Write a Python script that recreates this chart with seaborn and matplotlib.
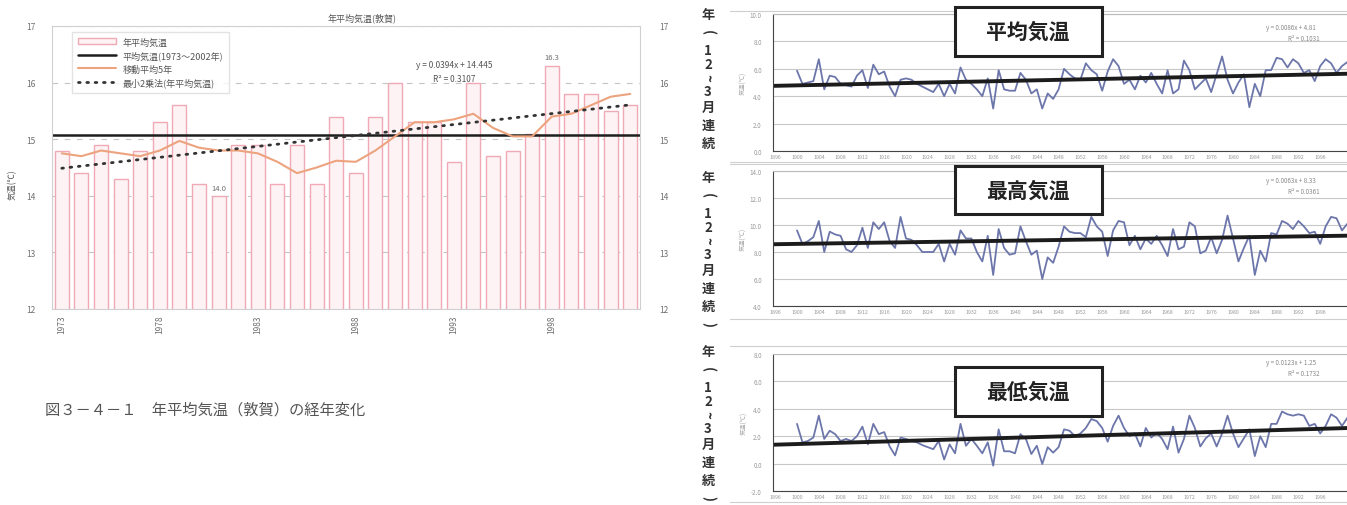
import numpy as np
import matplotlib
matplotlib.use("Agg")
import matplotlib.pyplot as plt
from matplotlib.patches import Rectangle, Patch
from matplotlib.lines import Line2D
import seaborn as sns

# --- left chart: annual mean temperature, Tsuruga 1973-2002
YEARS = list(range(1973, 2003))
ANNUAL_MEAN = [14.8, 14.4, 14.9, 14.3, 14.8, 15.3, 15.6, 14.2, 14.0, 14.9,
               14.9, 14.2, 14.9, 14.2, 15.4, 14.4, 15.4, 16.0, 15.3, 15.3,
               14.6, 16.0, 14.7, 14.8, 15.1, 16.3, 15.8, 15.8, 15.5, 15.6]
MOVING_AVG_5 = [14.75, 14.7, 14.8, 14.75, 14.7, 14.8, 14.97, 14.85, 14.8, 14.8,
                14.75, 14.6, 14.4, 14.5, 14.62, 14.6, 14.8, 15.05, 15.3, 15.3,
                15.35, 15.45, 15.2, 15.05, 15.05, 15.4, 15.45, 15.6, 15.75, 15.8]
NORMAL_1973_2002 = 15.07
TICK_YEARS = [1973, 1978, 1983, 1988, 1993, 1998]
LABELED_YEARS = [1981, 1998]

# --- right charts: Dec-Mar temperatures (year series)
START_YEAR = 1900
WINTER_MEAN = [5.86, 4.9, 5.0, 5.1, 6.7, 4.5, 5.5, 5.4, 4.9, 4.8,
               4.7, 5.5, 5.9, 4.6, 6.3, 5.6, 5.8, 4.7, 4.0, 5.2,
               5.3, 5.2, 4.9, 4.7, 4.5, 4.3, 4.9, 4.0, 4.9, 4.2,
               6.1, 5.2, 4.9, 4.5, 4.0, 5.3, 3.1, 5.9, 4.5, 4.4,
               4.4, 5.7, 5.2,
               4.2, 4.5, 3.1, 4.2, 3.8, 4.5, 6.0, 5.6, 5.3, 5.2,
               6.4, 5.9, 5.6, 4.4, 5.8, 6.7, 6.2, 4.9, 5.2, 4.5,
               5.5, 5.0, 5.7, 4.9, 4.2, 5.9, 4.2, 4.5, 6.6, 5.9,
               4.5, 4.9, 5.3, 4.3, 5.6, 6.9, 5.2, 4.2, 5.0, 5.6,
               3.2, 4.9, 4.0, 5.9, 5.9, 6.8, 6.7, 6.1, 6.7, 6.4,
               5.7, 5.9, 5.1, 6.2, 6.7, 6.4, 5.7, 6.2, 6.5]
WINTER_MAX = [9.6, 8.6, 8.8, 9.1, 10.3, 8.0, 9.5, 9.3, 9.2, 8.2,
              8.0, 8.5, 9.8, 8.3, 10.2, 9.7, 10.2, 8.8, 8.3, 10.6,
              9.0, 8.9, 8.5, 8.0, 8.0, 8.0, 8.6, 7.3, 8.6, 7.8,
              9.6, 9.0, 9.0, 8.0, 7.3, 9.2, 6.3, 9.7, 8.3, 7.8,
              7.9, 9.9, 8.8,
              7.8, 8.1, 6.0, 7.6, 7.2, 8.4, 9.9, 9.5, 9.4, 9.4,
              9.1, 10.6, 9.9, 9.5, 7.7, 9.6, 10.3, 10.2, 8.5, 9.2,
              8.2, 9.0, 8.6, 9.2, 8.5, 7.7, 9.7, 8.2, 8.4, 10.2,
              9.9, 7.9, 8.1, 9.1, 7.9, 8.9, 10.7, 9.0, 7.3, 8.3,
              9.2, 6.3, 8.1, 7.3, 9.4, 9.3, 10.3, 10.1, 9.7, 10.3,
              9.9, 9.4, 9.5, 8.6, 9.9, 10.6, 10.5, 9.6, 10.1, 10.2]
WINTER_MIN = [2.9, 1.55, 1.65, 1.9, 3.5, 1.8, 2.4, 2.15, 1.65, 1.8,
              1.65, 2.0, 2.7, 1.4, 2.9, 2.15, 2.3, 1.25, 0.6, 1.9,
              1.8, 1.65, 1.55, 1.35, 1.2, 1.05, 1.65, 0.3, 1.4, 0.75,
              2.9, 1.3, 1.8, 1.3, 0.75, 1.55, -0.15, 2.5, 0.9, 0.9,
              0.75, 2.15, 1.8,
              0.7, 1.3, -0.03, 1.2, 0.8, 1.2, 2.5, 2.4, 2.0, 2.2,
              2.6, 3.25, 3.1, 2.6, 1.6, 2.75, 3.5, 2.6, 2.0, 2.2,
              1.25, 2.6, 1.9, 2.25, 1.8, 1.05, 2.7, 0.8, 1.8, 3.5,
              2.6, 1.25, 1.85, 2.2, 1.25, 2.2, 3.5, 2.2, 1.2, 1.85,
              2.5, 0.55, 2.0, 1.2, 2.9, 2.9, 3.8, 3.6, 3.5, 3.6,
              3.5, 2.75, 2.9, 2.2, 2.75, 3.6, 3.35, 2.75, 3.35]
PANEL_TITLES = ["平均気温", "最高気温", "最低気温"]
PANEL_YLIMS = [(0, 10), (4, 14), (-2, 8)]
PANEL_EQS = [("y = 0.0086x + 4.81", "R² = 0.1031"),
             ("y = 0.0063x + 8.33", "R² = 0.0361"),
             ("y = 0.0123x + 1.25", "R² = 0.1732")]

sns.set_style("white")
plt.rcParams["font.family"] = ["Noto Sans CJK JP", "DejaVu Sans"]

W, H = 1347, 506
fig = plt.figure(figsize=(W / 100, H / 100), dpi=100)


def px(l, t, r, b):
    return [l / W, 1 - b / H, (r - l) / W, (b - t) / H]


BAR_FACE, BAR_EDGE = "#fdf3f5", "#f0aab6"
ORANGE = "#eca37e"
GREY = "#6f6f6f"

# ---------------- left chart ----------------
ax = fig.add_axes(px(52, 27, 640, 310))
sns.barplot(x=YEARS, y=ANNUAL_MEAN, native_scale=True, width=0.72, color=BAR_FACE,
            saturation=1, edgecolor=BAR_EDGE, linewidth=1.0, errorbar=None, ax=ax)
ax.axhline(NORMAL_1973_2002, color="#1e1e1e", lw=1.8)
sns.lineplot(x=YEARS, y=MOVING_AVG_5, color=ORANGE, lw=1.5, ax=ax)
dotted = dict(color="#333333", lw=2.0, linestyle=(0, (0.6, 2.4)), dash_capstyle="round")
sns.regplot(x=YEARS, y=ANNUAL_MEAN, scatter=False, ci=None, truncate=True,
            line_kws=dotted, ax=ax)
ax.set_xlim(1972.5, 2002.5)
ax.set_ylim(12, 17)
ax.set_yticks(range(12, 18))
ax.yaxis.grid(True, color="#c4c4c4", lw=0.8, linestyle=(0, (5, 6)))
ax.set_axisbelow(True)
ax.set_xticks(TICK_YEARS)
ax.set_xticklabels([str(y) for y in TICK_YEARS], rotation=90)
ax.tick_params(axis="x", length=0, labelsize=6, colors=GREY, pad=4)
ax.tick_params(axis="y", length=0, labelsize=6, colors=GREY, pad=12)
ax.set_xlabel("")
ax.set_ylabel("")
for s in ax.spines.values():
    s.set_color("#d0d0d0")
    s.set_linewidth(0.8)

for yr in LABELED_YEARS:
    v = ANNUAL_MEAN[YEARS.index(yr)]
    ax.annotate(f"{v:.1f}", (yr, v), xytext=(0, 3), textcoords="offset points",
                ha="center", va="bottom", fontsize=5.5, color=GREY)

ax.text(1993.0, 16.28, "y = 0.0394x + 14.445", ha="center", fontsize=6, color="#555")
ax.text(1993.0, 16.02, "R² = 0.3107", ha="center", fontsize=6, color="#555")

ax2 = ax.twinx()
ax2.set_ylim(12, 17)
ax2.set_yticks(range(12, 18))
ax2.tick_params(axis="y", length=0, labelsize=6, colors=GREY, pad=14)
for s in ax2.spines.values():
    s.set_visible(False)

handles = [Patch(facecolor=BAR_FACE, edgecolor=BAR_EDGE),
           Line2D([], [], color="#1e1e1e", lw=1.8),
           Line2D([], [], color=ORANGE, lw=1.5),
           Line2D([], [], **dotted)]
labels = ["年平均気温", "平均気温(1973～2002年)", "移動平均5年", "最小2乗法(年平均気温)"]
leg = ax.legend(handles, labels, loc="upper left", bbox_to_anchor=(0.027, 0.995),
                fontsize=6.5, frameon=True, fancybox=False, edgecolor="#dddddd",
                handlelength=4.2, labelspacing=0.45, borderpad=0.6)
for t in leg.get_texts():
    t.set_color("#555")

fig.text(362 / W, 1 - 18 / H, "年平均気温(敦賀)", ha="center", va="center",
         fontsize=6.5, color="#555")
fig.text(12 / W, 1 - 185 / H, "気温(℃)", rotation=90, ha="center", va="center",
         fontsize=6, color="#555")
fig.text(45 / W, 1 - 410 / H, "図３－４－１　年平均気温（敦賀）の経年変化",
         ha="left", va="center", fontsize=11, color="#555")

# ---------------- right charts ----------------
PX_PER_YEAR = 5.45
X0 = START_YEAR - 24 / PX_PER_YEAR
X1 = X0 + 120
plot_rows = [(15, 152), (172, 307), (355, 492)]
box_rows = [(8, 57), (167, 215), (368, 417)]
outer_rows = [(12, 165), (163, 320), (347, 503)]
eq_rows = [(28, 39), (181, 192), (363, 374)]

for i, vals in enumerate([WINTER_MEAN, WINTER_MAX, WINTER_MIN]):
    top, bottom = plot_rows[i]
    axr = fig.add_axes(px(773, top, 773 + 120 * PX_PER_YEAR, bottom))
    years = np.arange(START_YEAR, START_YEAR + len(vals))
    lo, hi = PANEL_YLIMS[i]
    axr.set_xlim(X0, X1)
    axr.set_ylim(lo, hi)
    sns.lineplot(x=years, y=vals, color="#6c76aa", lw=1.3, ax=axr)
    sns.regplot(x=years, y=vals, scatter=False, ci=None, truncate=False,
                line_kws=dict(color="#1c1c1c", lw=2.8), ax=axr)
    axr.set_xlim(X0, X1)
    axr.set_ylim(lo, hi)
    axr.set_yticks(np.arange(lo, hi + 0.1, 2))
    axr.set_yticklabels([f"{v:.1f}" for v in np.arange(lo, hi + 0.1, 2)])
    ticks = list(range(1896, 1997, 4))
    axr.set_xticks(ticks)
    axr.set_xticklabels([str(t) for t in ticks])
    axr.tick_params(axis="x", length=0, labelsize=3.8, colors="#999", pad=2)
    axr.tick_params(axis="y", length=0, labelsize=4.5, colors="#999", pad=8)
    axr.yaxis.grid(True, color="#c8c8c8", lw=0.8)
    axr.set_axisbelow(True)
    axr.set_xlabel("")
    axr.set_ylabel("気温(℃)", fontsize=4.5, color="#aaa", labelpad=2)
    axr.spines["left"].set_color("#444")
    axr.spines["bottom"].set_color("#444")
    axr.spines["top"].set_color("#bbb")
    axr.spines["right"].set_visible(False)

    bt, bb = box_rows[i]
    fig.add_artist(Rectangle((955 / W, 1 - bb / H), 147 / W, (bb - bt) / H,
                             transform=fig.transFigure, facecolor="white",
                             edgecolor="#222", lw=2.2, zorder=5))
    fig.text(1028 / W, 1 - (bt + bb) / 2 / H, PANEL_TITLES[i], ha="center",
             va="center", fontsize=15, fontweight="bold", color="#222", zorder=6)

    e1, e2 = eq_rows[i]
    fig.text(1266 / W, 1 - e1 / H, PANEL_EQS[i][0], fontsize=4.5, color="#888", va="center")
    fig.text(1288 / W, 1 - e2 / H, PANEL_EQS[i][1], fontsize=4.5, color="#888", va="center")

    for yy in outer_rows[i]:
        fig.add_artist(Line2D([730 / W, 1], [1 - yy / H] * 2, color="#cfcfcf", lw=0.8,
                              transform=fig.transFigure))

# vertical side labels (年（12〜3月連続）)
side_labels = [(15, list("年(12~3月連続")), (178, list("年(12~3月連続)")),
               (352, list("年(12~3月連続)"))]
adv = {"(": 18, ")": 18, "~": 14, "1": 14, "2": 13, "3": 16}
for y0, chars in side_labels:
    y = y0
    for c in chars:
        rot = -90 if c in "()~" else 0
        fig.text(708 / W, 1 - y / H, c, ha="center", va="center", rotation=rot,
                 fontsize=9.5, color="#333", fontweight="bold")
        y += adv.get(c, 18)

fig.savefig("out.png", dpi=100)
